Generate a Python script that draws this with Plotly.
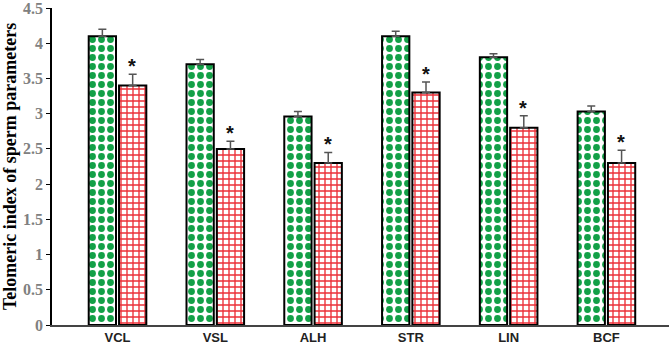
import plotly.graph_objects as go

categories = ["VCL", "VSL", "ALH", "STR", "LIN", "BCF"]
control_values = [4.1, 3.7, 2.96, 4.1, 3.8, 3.03]
control_err = [0.1, 0.07, 0.07, 0.07, 0.05, 0.08]
treated_values = [3.4, 2.5, 2.3, 3.3, 2.8, 2.3]
treated_err = [0.16, 0.11, 0.15, 0.15, 0.17, 0.18]
y_ticks = [0, 0.5, 1, 1.5, 2, 2.5, 3, 3.5, 4, 4.5]
y_tick_labels = ["0", "0.5", "1", "1.5", "2", "2.5", "3", "3.5", "4", "4.5"]

xpos = list(range(len(categories)))

fig = go.Figure()
fig.add_trace(go.Bar(
    x=xpos, y=control_values,
    marker=dict(color="white", line=dict(color="black", width=2),
                pattern=dict(shape=".", fgcolor="#13a047", bgcolor="white",
                             fgopacity=1, size=9, solidity=0.45)),
    error_y=dict(type="data", symmetric=False, array=control_err,
                 arrayminus=[0] * len(control_err), color="#555555",
                 thickness=1.5, width=4),
    showlegend=False,
))
fig.add_trace(go.Bar(
    x=xpos, y=treated_values,
    marker=dict(color="white", line=dict(color="black", width=2),
                pattern=dict(shape="+", fgcolor="#ec3038", bgcolor="white",
                             fgopacity=1, size=6, solidity=0.4)),
    error_y=dict(type="data", symmetric=False, array=treated_err,
                 arrayminus=[0] * len(treated_err), color="#555555",
                 thickness=1.5, width=4),
    showlegend=False,
))

# significance asterisks above treated bars
for i, (v, e) in enumerate(zip(treated_values, treated_err)):
    fig.add_annotation(x=i + 0.15, y=v + e, text="<b>*</b>", showarrow=False,
                       yanchor="bottom", yshift=-5,
                       font=dict(family="Liberation Sans", size=20, color="#111111"))

fig.update_layout(
    width=669, height=345,
    margin=dict(l=52, r=0, t=5, b=20),
    plot_bgcolor="white", paper_bgcolor="white",
    barmode="group", bargap=0.38, bargroupgap=0.1,
)
fig.update_xaxes(
    range=[-0.67, 5.64], tickvals=xpos,
    ticktext=["<b>%s</b>" % c for c in categories],
    showline=True, linecolor="#444444", linewidth=1.5, ticks="",
    tickfont=dict(family="Liberation Sans", size=13, color="#222222"),
    ticklabeloverflow="allow",
    showgrid=False, zeroline=False,
)
fig.update_yaxes(
    range=[0, 4.5], tickvals=y_ticks,
    ticktext=["<b>%s</b>" % t for t in y_tick_labels],
    showline=True, linecolor="black", linewidth=1.5,
    ticks="outside", ticklen=4, tickcolor="black",
    tickfont=dict(family="Liberation Serif", size=16, color="#808080"),
    ticklabeloverflow="allow",
    title=dict(text="<b>Telomeric index of sperm parameters</b>",
               font=dict(family="Liberation Serif", size=18, color="black"),
               standoff=2),
    showgrid=False, zeroline=False,
)

fig.write_html("out.html", config={"displayModeBar": False},
               post_script="document.body.style.margin='0';document.body.style.overflow='hidden';")
